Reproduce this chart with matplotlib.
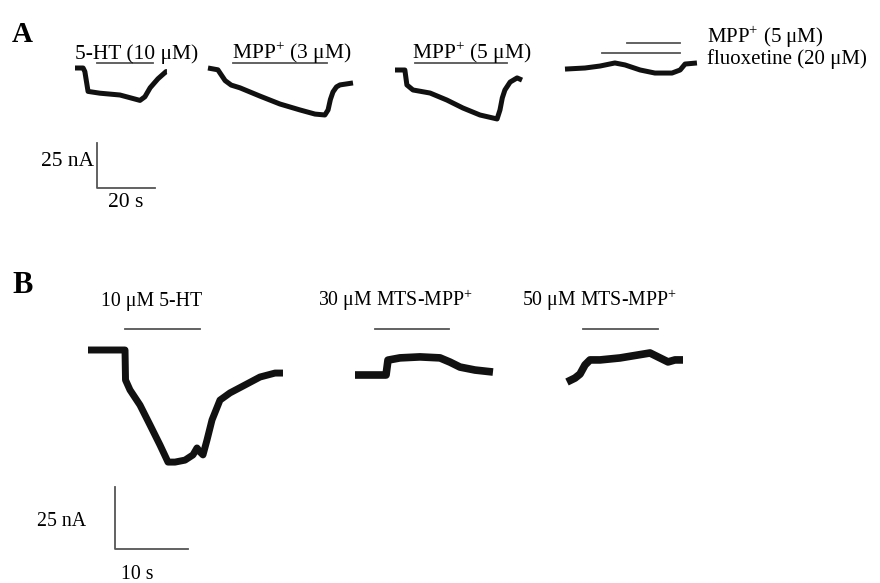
import numpy as np
import matplotlib.pyplot as plt
from matplotlib.transforms import Affine2D

plt.rcParams['font.family'] = ['Liberation Serif', 'DejaVu Serif']
plt.rcParams['mathtext.fontset'] = 'custom'
plt.rcParams['mathtext.rm'] = 'Liberation Serif'

# ---------------- data (time in s, current in nA, relative to trace start) ----------------
# panel A
a1_t = [0, 2.8, 3.4, 4.5, 8.6, 15.5, 22.4, 24.1, 25.9, 28.6, 31.4, 31.7]
a1_i = [0, 0, -2, -13, -14, -15, -18, -16, -11, -6, -2, -2]
a1_bar = [7.6, 26.9]

a2_t = [0, 3.4, 5.9, 8.0, 11.0, 17.9, 24.8, 31.7, 36.9, 40.3, 41.4, 42.2, 43.1, 44.3, 45.5, 50.0]
a2_i = [0, -1, -7, -9.5, -11, -15.6, -20, -23.3, -25.6, -26.1, -23.3, -17.5, -13.3, -10.5, -9.4, -8.3]
a2_bar = [8.6, 41.0]

a3_t = [0, 3.4, 4.1, 6.2, 12.1, 17.9, 23.4, 29.3, 35.2, 36.2, 37.0, 37.9, 39.7, 42.1, 43.8]
a3_i = [0, 0, -8.3, -11.1, -12.8, -16.7, -21.1, -25, -27.2, -22.2, -15.5, -11.1, -6.7, -4.4, -5.6]
a3_bar = [6.9, 38.6]

a4_t = [0, 6.9, 12.1, 17.2, 20.7, 25.9, 31.0, 36.9, 39.7, 41.4, 45.5]
a4_i = [-0.6, 0, 1.1, 2.8, 1.7, -1.1, -2.8, -2.8, -1.1, 2.2, 2.8]
a4_bar_mpp = [21.4, 39.7]
a4_bar_flx = [12.8, 39.7]

# panel B
b1_t = [0, 5.07, 5.14, 5.75, 7.12, 8.49, 9.86, 10.96, 11.92, 13.29, 14.38, 14.93,
        15.34, 15.75, 16.3, 16.99, 18.08, 19.45, 21.51, 23.56, 25.62, 26.71]
b1_i = [0, 0, -12.1, -16.1, -22.2, -30.2, -38.3, -45.2, -45.2, -44.4, -42.3, -39.5,
        -41.1, -42.3, -36.3, -28.2, -20.2, -17.3, -14.1, -10.9, -9.3, -9.3]
b1_bar = [5.07, 15.34]

b2_t = [0, 4.25, 4.52, 6.16, 8.9, 11.64, 13.01, 14.38, 16.44, 18.9]
b2_i = [0, 0, 6.0, 6.9, 7.3, 6.9, 5.2, 3.2, 2.0, 1.2]
b2_bar = [2.74, 12.88]

b3_t = [0, 1.1, 1.78, 2.47, 3.15, 4.52, 7.26, 11.37, 12.74, 13.84, 14.79, 15.89]
b3_i = [0, 1.6, 3.2, 6.9, 8.9, 8.9, 9.7, 11.7, 9.7, 8.1, 8.9, 8.9]
b3_bar = [2.19, 12.47]

# ---------------- figure ----------------
fig = plt.figure(figsize=(8.8, 5.83), dpi=100)
ax = fig.add_axes([0, 0, 1, 1])
ax.set_xlim(0, 880)
ax.set_ylim(583, 0)
ax.axis('off')

# pixels per s and per nA for each panel
SA = (2.9, 1.8)
SB = (7.3, 2.48)

trace_col = '#111111'
bar_col = '#555555'


def place(x0, y0, sc):
    # transform from (s, nA) to figure pixels, origin at trace start
    return Affine2D().scale(sc[0], -sc[1]).translate(x0, y0) + ax.transData


def trace(t, i, x0, y0, sc, lw):
    ax.plot(t, i, color=trace_col, lw=lw, solid_joinstyle='round',
            solid_capstyle='butt', transform=place(x0, y0, sc))


def drug_bar(on_off, x0, y0, ybar, sc):
    h = (y0 - ybar) / sc[1]
    ax.plot(on_off, [h, h], color=bar_col, lw=1.3, transform=place(x0, y0, sc))


def scale_bar(x0, y0, sc, t_len, i_len):
    ax.plot([0, 0, t_len], [i_len, 0, 0], color=bar_col, lw=1.3,
            transform=place(x0, y0, sc))


fsA = 15.5
fsB = 14.3

# panel A
ax.text(12, 42, 'A', fontsize=21, fontweight='bold', va='baseline')

trace(a1_t, a1_i, 75, 68, SA, 3.6)
drug_bar(a1_bar, 75, 68, 63, SA)
ax.text(75, 59, '5-HT (10 μM)', fontsize=fsA, va='baseline')

trace(a2_t, a2_i, 208, 68, SA, 3.6)
drug_bar(a2_bar, 208, 68, 63, SA)
ax.text(232, 59, r'MPP$^{+}$ (3 μM)', fontsize=fsA, va='baseline')

trace(a3_t, a3_i, 395, 70, SA, 3.6)
drug_bar(a3_bar, 395, 70, 63, SA)
ax.text(412, 59, r'MPP$^{+}$ (5 μM)', fontsize=fsA, va='baseline')

trace(a4_t, a4_i, 565, 68, SA, 3.6)
drug_bar(a4_bar_mpp, 565, 68, 43, SA)
drug_bar(a4_bar_flx, 565, 68, 53, SA)
ax.text(707, 43, r'MPP$^{+}$ (5 μM)', fontsize=15, va='baseline')
ax.text(707, 64, 'fluoxetine (20 μM)', fontsize=15, va='baseline')

scale_bar(97, 188, SA, 20, 25)
ax.text(94, 166, '25 nA', fontsize=fsA, ha='right', va='baseline')
ax.text(126, 207, '20 s', fontsize=fsA, ha='center', va='baseline')

# panel B
ax.text(12, 293, 'B', fontsize=22, fontweight='bold', va='baseline')

trace(b1_t, b1_i, 88, 350, SB, 5.0)
drug_bar(b1_bar, 88, 350, 329, SB)
ax.text(152, 306, '10 μM 5-HT', fontsize=fsB, ha='center', va='baseline')

trace(b2_t, b2_i, 355, 375, SB, 5.5)
drug_bar(b2_bar, 355, 375, 329, SB)
ax.text(318, 306, r'30 μM MTS-MPP$^{+}$', fontsize=fsB, va='baseline')

trace(b3_t, b3_i, 567, 382, SB, 5.5)
drug_bar(b3_bar, 567, 382, 329, SB)
ax.text(522, 306, r'50 μM MTS-MPP$^{+}$', fontsize=fsB, va='baseline')

scale_bar(115, 549, SB, 10, 25)
ax.text(37, 526, '25 nA', fontsize=fsB, va='baseline')
ax.text(137, 579, '10 s', fontsize=fsB, ha='center', va='baseline')

fig.savefig('out.png', dpi=100)
